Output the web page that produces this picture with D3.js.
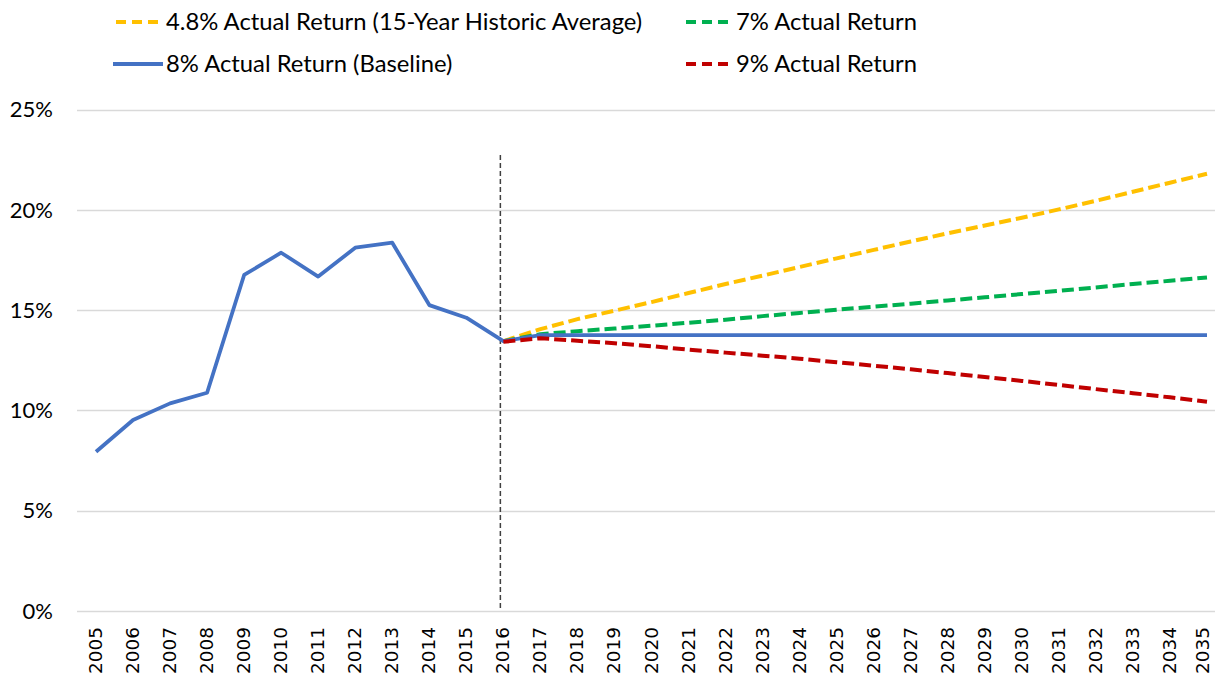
<!DOCTYPE html>
<meta charset="utf-8">
<style>
    body { margin: 0; background: #fff; }
    .grid line { stroke: #d9d9d9; stroke-width: 1.3; }
    .ylab { font-family: Lato, "Open Sans", sans-serif; font-size: 22px; fill: #000; }
    .xlab { font-family: "DejaVu Sans", sans-serif; font-size: 18.5px; fill: #000; }
    .legend text { font-family: Lato, "Open Sans", sans-serif; font-size: 23.8px; fill: #000; }
</style>
<body>
<svg width="1215" height="677"></svg>
<script src="https://d3js.org/d3.v7.min.js"></script>
<script>
// years on the category axis
var years = ["2005","2006","2007","2008","2009","2010","2011","2012","2013","2014","2015","2016",
    "2017","2018","2019","2020","2021","2022","2023","2024","2025","2026","2027","2028","2029",
    "2030","2031","2032","2033","2034","2035"];

// 8% baseline (history 2005-2016, then flat projection)
var baseline = [7.94, 9.52, 10.35, 10.88, 16.75, 17.86, 16.67, 18.11, 18.36, 15.25, 14.62, 13.45,
    13.75, 13.75, 13.75, 13.75, 13.75, 13.75, 13.75, 13.75, 13.75, 13.75, 13.75, 13.75, 13.75,
    13.75, 13.75, 13.75, 13.75, 13.75, 13.75];

// projections start at 2016
var projYears = years.slice(11);
var ret48 = [13.45, 14.05, 14.55, 14.97, 15.40, 15.85, 16.30, 16.72, 17.15, 17.58, 18.00, 18.42,
    18.83, 19.22, 19.60, 20.02, 20.45, 20.90, 21.35, 21.80];
var ret7 = [13.45, 13.80, 13.95, 14.08, 14.22, 14.37, 14.52, 14.70, 14.86, 15.02, 15.17, 15.32,
    15.48, 15.64, 15.80, 15.96, 16.13, 16.30, 16.46, 16.63];
var ret9 = [13.42, 13.60, 13.47, 13.35, 13.20, 13.03, 12.88, 12.73, 12.58, 12.40, 12.23, 12.05,
    11.86, 11.66, 11.47, 11.27, 11.06, 10.86, 10.65, 10.43];

var yTicks = [0, 5, 10, 15, 20, 25];

var series = [
    { name: "4.8% Actual Return (15-Year Historic Average)", x: projYears, v: ret48, color: "#FFC000", dash: true },
    { name: "7% Actual Return", x: projYears, v: ret7, color: "#00B050", dash: true },
    { name: "8% Actual Return (Baseline)", x: years, v: baseline, color: "#4472C4", dash: false },
    { name: "9% Actual Return", x: projYears, v: ret9, color: "#C00000", dash: true }
];

var svg = d3.select("svg");

var x = d3.scalePoint().domain(years).range([96, 1207]);
var y = d3.scaleLinear().domain([0, 25]).range([611, 109.5]);

// gridlines
svg.append("g").attr("class", "grid")
    .selectAll("line").data(yTicks).enter().append("line")
    .attr("x1", 77).attr("x2", 1215)
    .attr("y1", function (d) { return Math.round(y(d)) + 0.5; })
    .attr("y2", function (d) { return Math.round(y(d)) + 0.5; });

// y labels
svg.append("g").selectAll("text").data(yTicks).enter().append("text")
    .attr("class", "ylab")
    .attr("x", 53).attr("y", function (d) { return y(d); })
    .attr("dy", "0.35em")
    .attr("text-anchor", "end")
    .text(function (d) { return d + "%"; });

// x labels, rotated (last one nudged so it stays inside the page)
svg.append("g").selectAll("text").data(years).enter().append("text")
    .attr("class", "xlab")
    .attr("transform", function (d) { return "translate(" + Math.min(x(d) + 6, 1209) + ",627) rotate(-90)"; })
    .attr("text-anchor", "end")
    .text(function (d) { return d; });

// divider between history and projection
svg.append("line")
    .attr("x1", x("2016") - 3).attr("x2", x("2016") - 3)
    .attr("y1", 155).attr("y2", 611)
    .attr("stroke", "#404040").attr("stroke-width", 1.5)
    .attr("stroke-dasharray", "5,3");

var line = d3.line()
    .x(function (d) { return x(d[0]); })
    .y(function (d) { return y(d[1]); });

series.forEach(function (s) {
    svg.append("path")
        .datum(d3.zip(s.x, s.v))
        .attr("fill", "none")
        .attr("stroke", s.color)
        .attr("stroke-width", s.dash ? 4 : 3.8)
        .attr("stroke-linejoin", "round")
        .attr("stroke-dasharray", s.dash ? "12,5" : null)
        .attr("d", line);
});

// legend (2 columns)
var legPos = [[116, 22], [686, 22], [113, 64], [686, 64]];
var leg = svg.append("g").attr("class", "legend");
series.forEach(function (s, i) {
    var p = legPos[i];
    var g = leg.append("g").attr("transform", "translate(" + p[0] + "," + p[1] + ")");
    g.append("line")
        .attr("x1", 0).attr("x2", s.dash ? 44 : 50)
        .attr("y1", 0).attr("y2", 0)
        .attr("stroke", s.color).attr("stroke-width", 4)
        .attr("stroke-dasharray", s.dash ? "10,6" : null);
    g.append("text")
        .attr("x", s.dash ? 50 : 53).attr("y", 0).attr("dy", "0.35em")
        .text(s.name);
});
</script>
</body>
